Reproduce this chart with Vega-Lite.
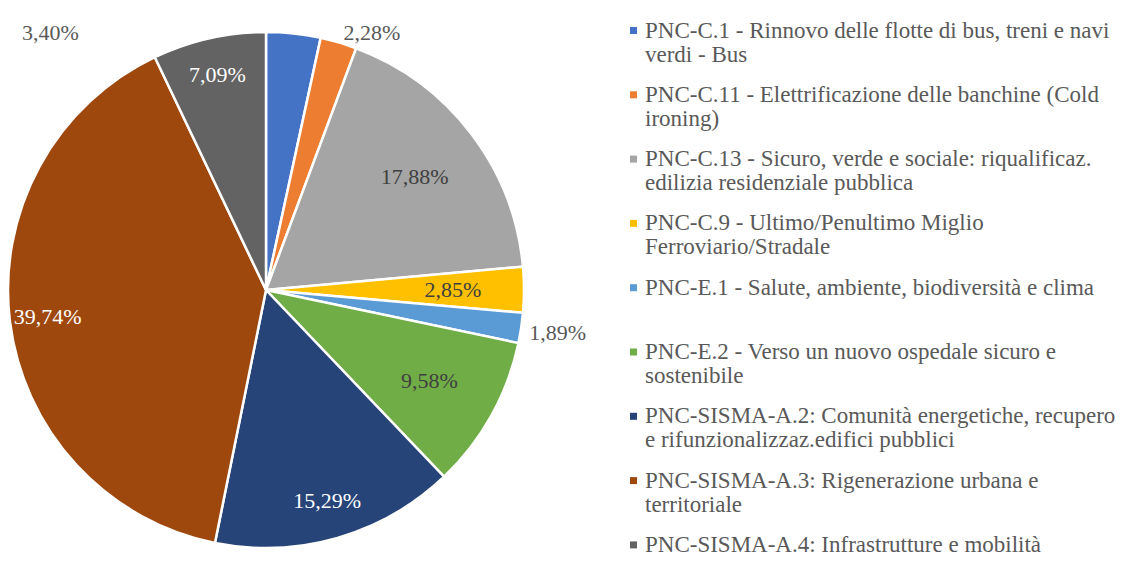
{
  "$schema": "https://vega.github.io/schema/vega-lite/v6.json",
  "width": 532,
  "height": 580,
  "padding": 0,
  "autosize": {"type": "pad"},
  "background": "white",
  "config": {
    "view": {"stroke": null},
    "font": "Liberation Serif",
    "locale": {"number": {"decimal": ",", "thousands": ".", "grouping": [3], "currency": ["€", ""]}},
    "style": {"guide-label": {"lineHeight": 24}}
  },
  "data": {
    "values": [
      {"progetto": "PNC-C.1 - Rinnovo delle flotte di bus, treni e navi|verdi - Bus", "share": 0.0340},
      {"progetto": "PNC-C.11 - Elettrificazione delle banchine (Cold|ironing)", "share": 0.0228},
      {"progetto": "PNC-C.13 - Sicuro, verde e sociale: riqualificaz.|edilizia residenziale pubblica", "share": 0.1788},
      {"progetto": "PNC-C.9 - Ultimo/Penultimo Miglio|Ferroviario/Stradale", "share": 0.0285},
      {"progetto": "PNC-E.1 - Salute, ambiente, biodiversità e clima", "share": 0.0189},
      {"progetto": "PNC-E.2 - Verso un nuovo ospedale sicuro e|sostenibile", "share": 0.0958},
      {"progetto": "PNC-SISMA-A.2: Comunità energetiche, recupero|e rifunzionalizzaz.edifici pubblici", "share": 0.1529},
      {"progetto": "PNC-SISMA-A.3: Rigenerazione urbana e|territoriale", "share": 0.3974},
      {"progetto": "PNC-SISMA-A.4: Infrastrutture e mobilità", "share": 0.0709}
    ]
  },
  "transform": [
    {"stack": "share", "groupby": [], "sort": [{"field": "progetto", "order": "ascending"}], "as": ["s0", "s1"]},
    {"calculate": "(datum.s0 + datum.s1) / 2", "as": "mid"}
  ],
  "layer": [
    {
      "mark": {"type": "arc", "outerRadius": 258, "stroke": "white", "strokeWidth": 2.5},
      "encoding": {
        "theta": {"field": "s0", "type": "quantitative", "stack": null, "scale": {"domain": [0, 1]}},
        "theta2": {"field": "s1"},
        "color": {
          "field": "progetto",
          "type": "nominal",
          "scale": {
            "range": ["#4472C4", "#ED7D31", "#A5A5A5", "#FFC000", "#5B9BD5", "#70AD47", "#264478", "#9E480E", "#636363"]
          },
          "legend": {
            "title": null,
            "orient": "none",
            "legendX": 622,
            "legendY": 19,
            "padding": 0,
            "labelExpr": "split(datum.label, '|')",
            "labelFont": "Liberation Serif",
            "labelFontSize": 23,
            "labelColor": "#595959",
            "labelLimit": 700,
            "labelOffset": 0,
            "symbolType": "square",
            "symbolSize": 49,
            "symbolStrokeWidth": 0,
            "rowPadding": 16.3,
            "gridAlign": "all"
          }
        }
      }
    },
    {
      "transform": [{"filter": "datum.share == 0.0709 || datum.share == 0.1529 || datum.share == 0.3974"}],
      "mark": {"type": "text", "radius": 220, "fontSize": 22, "fill": "white"},
      "encoding": {
        "theta": {"field": "mid", "type": "quantitative", "stack": null, "scale": {"domain": [0, 1]}},
        "text": {"field": "share", "type": "quantitative", "format": ".2%"}
      }
    },
    {
      "transform": [{"filter": "datum.share == 0.1788 || datum.share == 0.0958 || datum.share == 0.0285"}],
      "mark": {"type": "text", "radius": 187, "fontSize": 22, "fill": "#404040"},
      "encoding": {
        "theta": {"field": "mid", "type": "quantitative", "stack": null, "scale": {"domain": [0, 1]}},
        "text": {"field": "share", "type": "quantitative", "format": ".2%"}
      }
    },
    {
      "transform": [{"filter": "datum.share == 0.0189"}],
      "mark": {"type": "text", "radius": 295, "fontSize": 22, "fill": "#595959"},
      "encoding": {
        "theta": {"field": "mid", "type": "quantitative", "stack": null, "scale": {"domain": [0, 1]}},
        "text": {"field": "share", "type": "quantitative", "format": ".2%"}
      }
    },
    {
      "transform": [{"filter": "datum.share == 0.0228"}],
      "mark": {"type": "text", "radius": 265, "fontSize": 22, "fill": "#595959", "align": "left", "dx": 3, "dy": -3},
      "encoding": {
        "theta": {"field": "mid", "type": "quantitative", "stack": null, "scale": {"domain": [0, 1]}},
        "text": {"field": "share", "type": "quantitative", "format": ".2%"}
      }
    },
    {
      "transform": [{"filter": "datum.share == 0.0340"}],
      "mark": {"type": "text", "radius": 262, "fontSize": 22, "fill": "#595959", "align": "right", "dx": -215, "dy": 4},
      "encoding": {
        "theta": {"field": "mid", "type": "quantitative", "stack": null, "scale": {"domain": [0, 1]}},
        "text": {"field": "share", "type": "quantitative", "format": ".2%"}
      }
    }
  ]
}
